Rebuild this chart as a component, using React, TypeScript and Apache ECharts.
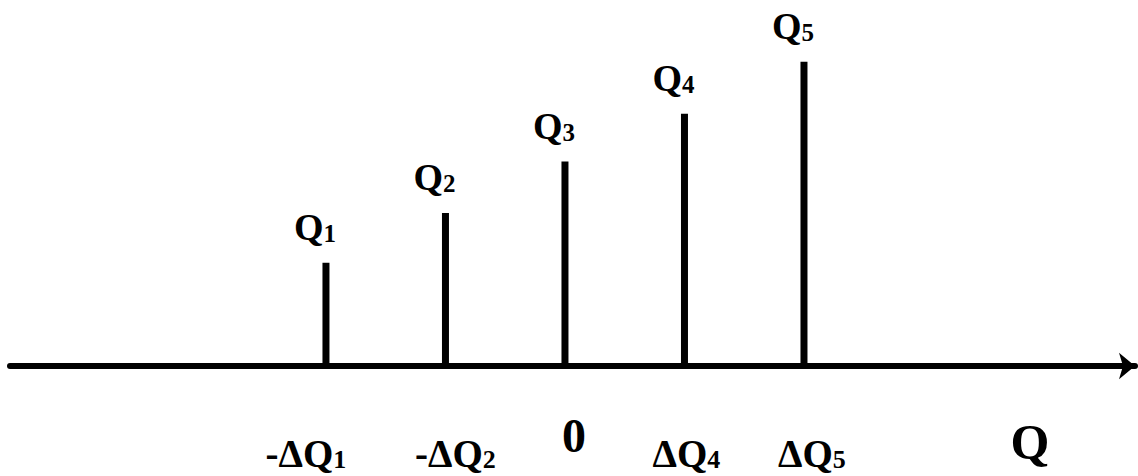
import React, { useEffect, useRef } from "react";
import * as echarts from "echarts";

// positions of the impulses along Q (0 at the centre one)
const positions = [-2, -1, 0, 1, 2];
// impulse heights (arbitrary units)
const heights = [2.03, 3.01, 4.02, 4.96, 5.98];
// labels above the impulses: Q with subscript
const topSubs = ["1", "2", "3", "4", "5"];
// labels below the axis
const bottomMain = ["-ΔQ", "-ΔQ", "0", "ΔQ", "ΔQ"];
const bottomSubs = ["1", "2", "", "4", "5"];
const axisName = "Q";

// layout-only horizontal nudges of the lower labels (px)
const bottomShift = [-20, 10, 9, 2, 8];

const FONT = '"Liberation Serif", "Times New Roman", serif';

export default function App() {
  const ref = useRef<HTMLDivElement>(null);
  useEffect(() => {
    if (!ref.current) return;
    const chart = echarts.init(ref.current, undefined, { renderer: "svg" });
    const barData = positions.map((x, i) => ({
      value: [x, heights[i]],
      sub: topSubs[i],
    }));
    const lowData = positions.map((x, i) => ({
      value: [x, 0],
      label: {
        offset: [bottomShift[i], bottomSubs[i] ? 0 : -19],
        formatter: bottomSubs[i]
          ? `{m|${bottomMain[i]}}{s|${bottomSubs[i]}}`
          : `{z|${bottomMain[i]}}`,
      },
    }));
    chart.setOption({
      animation: false,
      backgroundColor: "#ffffff",
      grid: { left: 10, right: 3, top: 10, bottom: 110 },
      xAxis: {
        type: "value",
        min: -4.644,
        max: 4.77,
        axisLine: {
          show: true,
          onZero: true,
          symbol: ["none", "arrow"],
          symbolSize: [20, 16],
          lineStyle: { color: "#000", width: 6 },
        },
        axisTick: { show: false },
        axisLabel: { show: false },
        splitLine: { show: false },
      },
      yAxis: {
        type: "value",
        min: 0,
        max: 7,
        show: false,
        splitLine: { show: false },
      },
      graphic: [
        {
          type: "text",
          x: 1030,
          y: 442,
          style: {
            text: axisName,
            fontFamily: FONT,
            fontWeight: "bold",
            fontSize: 50,
            fill: "#000",
            align: "center",
            verticalAlign: "middle",
          },
        },
      ],
      series: [
        {
          type: "bar",
          data: barData,
          barWidth: 7,
          itemStyle: { color: "#000" },
          label: {
            show: true,
            position: "top",
            distance: 17,
            offset: [-11, 0],
            formatter: (p: any) => `{q|Q}{s|${p.data.sub}}`,
            rich: {
              q: {
                fontFamily: FONT,
                fontWeight: "bold",
                fontSize: 38,
                color: "#000",
                lineHeight: 40,
                verticalAlign: "bottom",
              },
              s: {
                fontFamily: FONT,
                fontWeight: "bold",
                fontSize: 25,
                color: "#000",
                lineHeight: 40,
                verticalAlign: "bottom",
              },
            },
          },
        },
        {
          type: "scatter",
          data: lowData,
          symbolSize: 1,
          clip: false,
          itemStyle: { color: "rgba(0,0,0,0)" },
          silent: true,
          label: {
            show: true,
            position: "bottom",
            distance: 70,
            color: "#000",
            opacity: 1,
            rich: {
              m: {
                fontFamily: FONT,
                fontWeight: "bold",
                fontSize: 39,
                color: "#000",
                lineHeight: 36,
                verticalAlign: "bottom",
              },
              s: {
                fontFamily: FONT,
                fontWeight: "bold",
                fontSize: 26,
                color: "#000",
                lineHeight: 36,
                verticalAlign: "bottom",
              },
              z: {
                fontFamily: FONT,
                fontWeight: "bold",
                fontSize: 48,
                color: "#000",
                lineHeight: 36,
              },
            },
          },
        },
      ],
    });
    return () => chart.dispose();
  }, []);
  return (
    <div
      ref={ref}
      style={{ position: "fixed", left: 0, top: 0, width: 1138, height: 476, background: "#fff" }}
    />
  );
}
